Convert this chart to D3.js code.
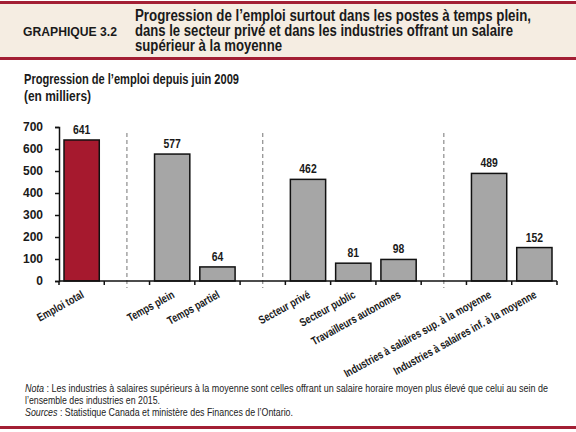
<!DOCTYPE html>
<html>
<head>
<meta charset="utf-8">
<script src="https://cdn.jsdelivr.net/npm/d3@7"></script>
<style>
  body { margin: 0; background: #fff; }
  svg { display: block; }
  text { font-family: "Liberation Sans", Arial, sans-serif; }
</style>
</head>
<body>
<script>
const categories = ["Emploi total", "g1", "Temps plein", "Temps partiel", "g2",
    "Secteur privé", "Secteur public", "Travailleurs autonomes", "g3",
    "Industries à salaires sup. à la moyenne", "Industries à salaires inf. à la moyenne"];
const values = [641, null, 577, 64, null, 462, 81, 98, null, 489, 152];
const gaps = ["g1", "g2", "g3"];
const yTicks = [0, 100, 200, 300, 400, 500, 600, 700];

const W = 576, H = 432;
const margin = {top: 127, left: 59, right: 19, bottom: 151};
const width = W - margin.left - margin.right,
    height = H - margin.top - margin.bottom;
const narrow = 0.8; // no Arial Narrow installed, squeeze instead

const svg = d3.select('body').append('svg')
    .attr('width', W)
    .attr('height', H);

// header band
svg.append('rect').attr('x', 0).attr('y', 2).attr('width', W).attr('height', 57).attr('fill', '#f5ede2');
svg.append('rect').attr('x', 0).attr('y', 1).attr('width', W).attr('height', 3).attr('fill', '#a31f34');
svg.append('rect').attr('x', 0).attr('y', 57).attr('width', W).attr('height', 3).attr('fill', '#a31f34');
svg.append('rect').attr('x', 0).attr('y', 426).attr('width', W).attr('height', 3).attr('fill', '#a31f34');

svg.append('text')
    .attr('x', 23).attr('y', 36)
    .attr('font-size', 13.5).attr('font-weight', 'bold').attr('fill', '#1a1a1a')
    .attr('textLength', 94).attr('lengthAdjust', 'spacingAndGlyphs')
    .text('GRAPHIQUE 3.2');

const title = ["Progression de l’emploi surtout dans les postes à temps plein,",
    "dans le secteur privé et dans les industries offrant un salaire",
    "supérieur à la moyenne"];
const titleLen = [396, 378, 147];
svg.selectAll('text.title').data(title).enter().append('text')
    .attr('font-size', 16).attr('font-weight', 'bold').attr('fill', '#1a1a1a')
    .attr('x', 135).attr('y', (d, i) => 21 + i * 15)
    .attr('textLength', (d, i) => titleLen[i]).attr('lengthAdjust', 'spacingAndGlyphs')
    .text(d => d);

const sub = ["Progression de l’emploi depuis juin 2009", "(en milliers)"];
const subLen = [215, 67];
svg.selectAll('text.sub').data(sub).enter().append('text')
    .attr('font-size', 14).attr('font-weight', 'bold').attr('fill', '#1a1a1a')
    .attr('x', 24).attr('y', (d, i) => 84 + i * 17)
    .attr('textLength', (d, i) => subLen[i]).attr('lengthAdjust', 'spacingAndGlyphs')
    .text(d => d);

const g = svg.append('g')
    .attr('transform', `translate(${margin.left}, ${margin.top})`);

const x = d3.scaleBand()
    .domain(categories)
    .range([0, width])
    .paddingInner(0)
    .paddingOuter(0);

const y = d3.scaleLinear()
    .domain([0, 700])
    .range([height, 0]);

// dashed separators in the empty slots
g.selectAll('line.sep')
    .data(gaps)
    .enter().append('line')
    .attr('x1', d => x(d) + x.bandwidth() / 2)
    .attr('x2', d => x(d) + x.bandwidth() / 2)
    .attr('y1', y(700) + 6)
    .attr('y2', height + 7)
    .attr('stroke', '#8c8c8c')
    .attr('stroke-width', 1.2)
    .attr('stroke-dasharray', '4,3');

const barPad = 5;
const bars = categories.map((c, i) => ({cat: c, v: values[i], i})).filter(d => d.v !== null);

g.selectAll('rect.bar')
    .data(bars)
    .enter().append('rect')
    .attr('class', 'bar')
    .attr('x', d => x(d.cat) + barPad)
    .attr('width', x.bandwidth() - 2 * barPad)
    .attr('y', d => y(d.v))
    .attr('height', d => height - y(d.v))
    .attr('fill', d => d.i === 0 ? '#a6192e' : '#a6a6a6')
    .attr('stroke', '#111')
    .attr('stroke-width', 1.5);

g.selectAll('text.val')
    .data(bars)
    .enter().append('text')
    .attr('transform', d => `translate(${x(d.cat) + x.bandwidth() / 2}, ${y(d.v) - 6}) scale(${narrow}, 1)`)
    .attr('text-anchor', 'middle')
    .attr('font-size', 13).attr('font-weight', 'bold').attr('fill', '#1a1a1a')
    .text(d => d.v);

// y axis
const yAxis = d3.axisLeft(y).tickValues(yTicks).tickSize(4).tickPadding(12);
const yg = g.append('g').call(yAxis);
yg.select('.domain').attr('stroke', '#111').attr('stroke-width', 1.5);
yg.selectAll('.tick line').attr('stroke', '#111').attr('stroke-width', 1.5);
yg.selectAll('.tick text')
    .attr('font-family', '"Liberation Sans", Arial, sans-serif')
    .attr('font-size', 12).attr('font-weight', 'bold').attr('fill', '#1a1a1a');

// x axis: ticks on slot boundaries
const xg = g.append('g').attr('transform', `translate(0, ${height})`);
xg.append('line').attr('x1', 0).attr('x2', width).attr('stroke', '#111').attr('stroke-width', 1.5);
xg.selectAll('line.t')
    .data(d3.range(categories.length + 1))
    .enter().append('line')
    .attr('x1', i => i * x.step()).attr('x2', i => i * x.step())
    .attr('y1', 0).attr('y2', 4)
    .attr('stroke', '#111').attr('stroke-width', 1.5);

xg.selectAll('text.lab')
    .data(categories.filter(c => !gaps.includes(c)))
    .enter().append('text')
    .attr('transform', d => `translate(${x(d) + x.bandwidth() / 2 + 3}, 16) rotate(-29) scale(0.78, 1)`)
    .attr('text-anchor', 'end')
    .attr('font-size', 11.5).attr('font-weight', 'bold').attr('fill', '#1a1a1a')
    .text(d => d);

// notes
const notes = svg.append('g')
    .attr('font-size', 10.5).attr('fill', '#222');
const n1 = notes.append('text').attr('x', 25).attr('y', 392)
    .attr('textLength', 523).attr('lengthAdjust', 'spacingAndGlyphs');
n1.append('tspan').attr('font-style', 'italic').text('Nota');
n1.append('tspan').text(' : Les industries  à salaires supérieurs à la moyenne sont celles offrant  un salaire horaire moyen plus élevé que celui au sein de');
notes.append('text').attr('x', 25).attr('y', 404)
    .attr('textLength', 135).attr('lengthAdjust', 'spacingAndGlyphs')
    .text('l’ensemble des industries en 2015.');
const n3 = notes.append('text').attr('x', 25).attr('y', 416)
    .attr('textLength', 268).attr('lengthAdjust', 'spacingAndGlyphs');
n3.append('tspan').attr('font-style', 'italic').text('Sources');
n3.append('tspan').text(' : Statistique  Canada et ministère des Finances de l’Ontario.');
</script>
</body>
</html>
